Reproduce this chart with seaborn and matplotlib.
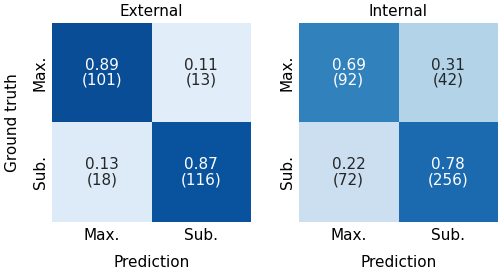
import numpy as np
import matplotlib
matplotlib.use('Agg')
import matplotlib.pyplot as plt
import seaborn as sns

labels = ['Max.', 'Sub.']
titles = ['External', 'Internal']

ext_ratio = [[0.89, 0.11], [0.13, 0.87]]
ext_count = [[101, 13], [18, 116]]
int_ratio = [[0.69, 0.31], [0.22, 0.78]]
int_count = [[92, 42], [72, 256]]

plt.rcParams['font.family'] = ['DejaVu Sans']
fig = plt.figure(figsize=(5, 2.71), dpi=100)
axes = [fig.add_axes([0.104, 0.181, 0.398, 0.734]),
        fig.add_axes([0.598, 0.181, 0.398, 0.734])]

for ax, title, ratio, count in zip(axes, titles, [ext_ratio, int_ratio], [ext_count, int_count]):
    ratio = np.array(ratio)
    count = np.array(count)
    annot = np.array([[f'{r:.2f}\n({c})' for r, c in zip(rr, cc)] for rr, cc in zip(ratio, count)])
    sns.heatmap(ratio, annot=annot, fmt='', cmap='Blues', vmin=0, vmax=1, cbar=False,
                xticklabels=labels, yticklabels=labels, ax=ax,
                annot_kws={'fontsize': 11, 'linespacing': 1.0})
    ax.set_title(title, fontsize=11, pad=5)
    ax.set_xlabel('Prediction', fontsize=11, labelpad=9)
    ax.tick_params(axis='x', length=0, labelsize=11, pad=4)
    ax.tick_params(axis='y', length=0, labelsize=11, pad=3)
    ax.set_yticklabels(labels, rotation=90, va='center')

axes[0].set_ylabel('Ground truth', fontsize=11, labelpad=9)

fig.savefig('out.png', dpi=100)
